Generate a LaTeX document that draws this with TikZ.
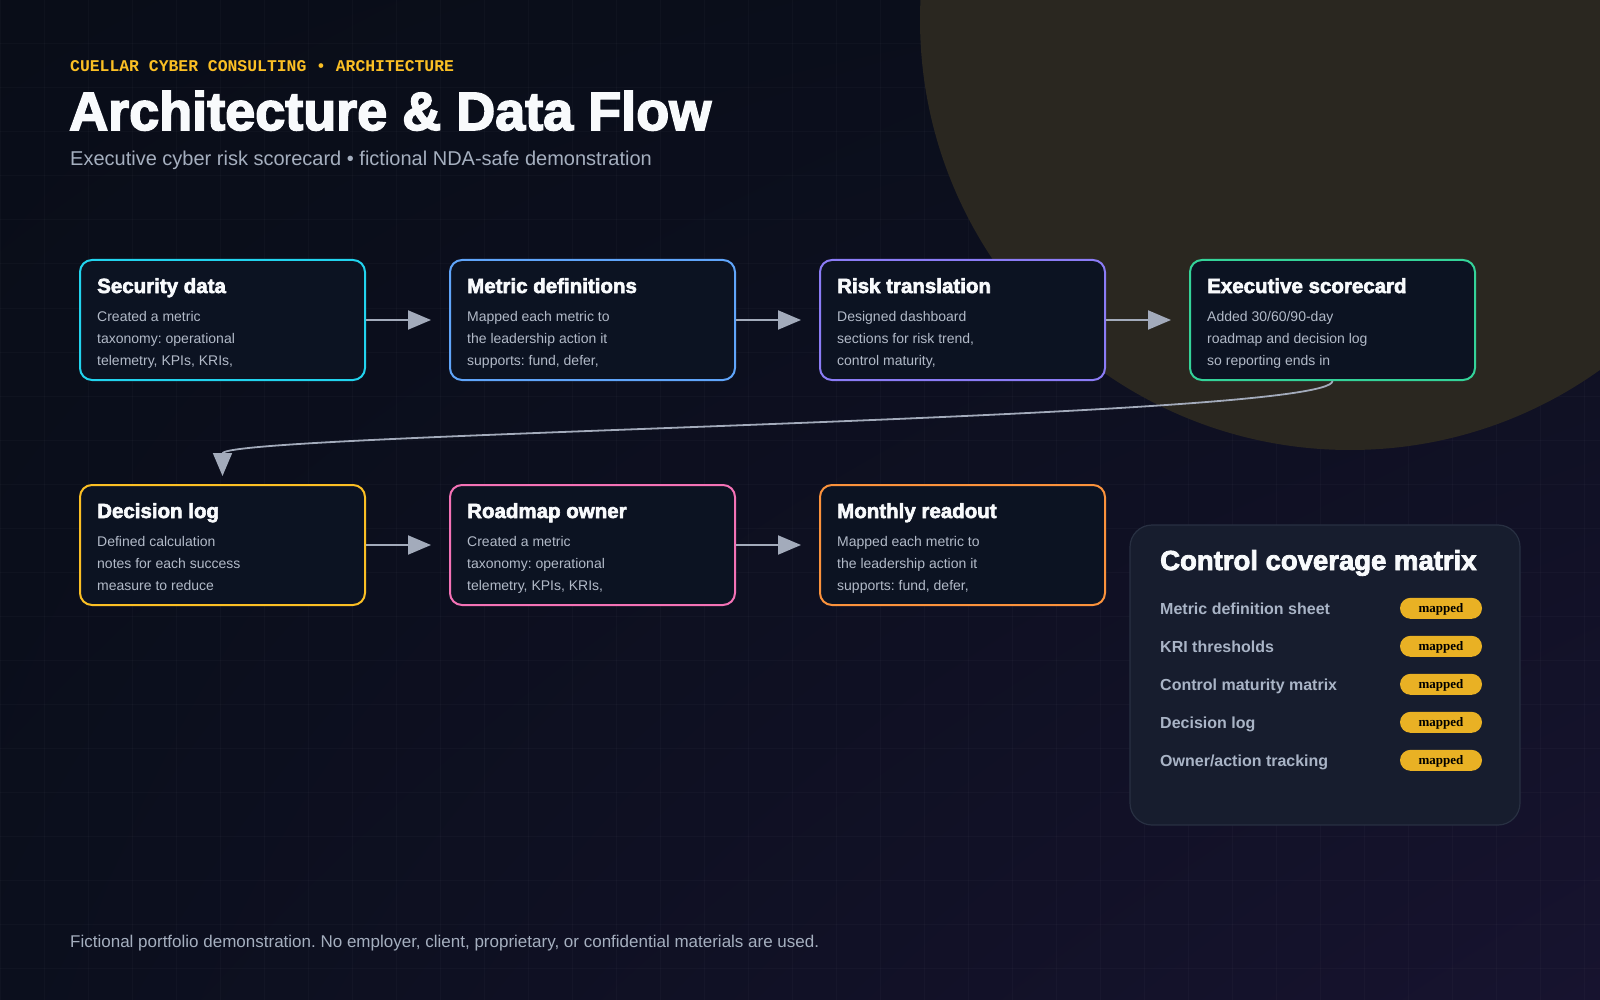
\documentclass[tikz,border=0pt]{standalone}
\usepackage{fontspec}
\setmainfont{Liberation Sans}
\newfontfamily\heavyfont{Liberation Sans}[BoldFeatures={FakeBold=3}]
\newfontfamily\codefont{Liberation Mono}
\newfontfamily\pillfont{Liberation Serif}
\usetikzlibrary{arrows.meta,positioning,calc,shadings}
\frenchspacing
\definecolor{bgTL}{HTML}{090D18}
\definecolor{bgTR}{HTML}{0B0F1D}
\definecolor{bgBL}{HTML}{0B0F1D}
\definecolor{bgBR}{HTML}{17132F}
\definecolor{blobOlive}{HTML}{2A2720}
\definecolor{cardFill}{HTML}{0C1322}
\definecolor{panelFill}{HTML}{171D2E}
\definecolor{panelEdge}{HTML}{283042}
\definecolor{arrowGray}{HTML}{A3ABBB}
\definecolor{titleWhite}{HTML}{F8FAFC}
\definecolor{bodyGray}{HTML}{B2BAC8}
\definecolor{subGray}{HTML}{A5AFBF}
\definecolor{rowGray}{HTML}{A9B4C6}
\definecolor{kickerAmber}{HTML}{FBBF24}
\definecolor{pillAmber}{HTML}{E9B124}
\definecolor{edgeCyan}{HTML}{22D3EE}
\definecolor{edgeBlue}{HTML}{60A5FA}
\definecolor{edgeViolet}{HTML}{8B7CF6}
\definecolor{edgeGreen}{HTML}{34D399}
\definecolor{edgeYellow}{HTML}{FBBF24}
\definecolor{edgePink}{HTML}{F472B6}
\definecolor{edgeOrange}{HTML}{FB923C}
\tikzset{
	card/.style={
		draw=#1,
		fill=cardFill,
		line width=2pt,
		rounded corners=12pt,
		minimum width=285pt,
		minimum height=120pt,
		inner sep=0pt
	},
	ctitle/.style={anchor=base west, inner sep=0pt, text=titleWhite,
		font=\heavyfont\bfseries\fontsize{20.5}{22}\selectfont},
	cbody/.style={anchor=north west, inner sep=0pt, align=left, text=bodyGray,
		font=\fontsize{14}{22}\selectfont},
	flow/.style={-{Triangle[length=23pt,width=19pt]}, line width=2pt, arrowGray},
	gridline/.style={white, opacity=0.022, line width=1pt},
	panel/.style={draw=panelEdge, fill=panelFill, line width=1.2pt,
		rounded corners=22pt, minimum width=390pt, minimum height=300pt},
	prow/.style={anchor=base west, inner sep=0pt, text=rowGray,
		font=\bfseries\fontsize{16}{18}\selectfont},
	pill/.style={fill=pillAmber, rounded corners=10.5pt, minimum width=82pt,
		minimum height=21pt, inner sep=0pt, text=black,
		text height=8.5pt, text depth=0pt,
		font=\pillfont\bfseries\fontsize{13}{13}\selectfont}
}
% one step card: name, centre, edge colour, title, three body lines
\newcommand{\flowcard}[7]{%
	\node[card=#3] (#1) at (#2) {};
	\node[ctitle] (#1-t) at ([shift={(18pt,-34pt)}]#1.north west) {#4};
	\node[cbody] (#1-b) at ([shift={(18pt,-46.6pt)}]#1.north west)
		{\strut #5\\#6\\#7};
}

\begin{document}
\begin{tikzpicture}[x=1pt, y=-1pt]
	\useasboundingbox (0,0) rectangle (1600,1000);
	\begin{scope}
		\clip (0,0) rectangle (1600,1000);
		\shade[upper left=bgTL, upper right=bgTR, lower left=bgBL, lower right=bgBR]
			(0,0) rectangle (1600,1000);
		\foreach \gx in {0,44,...,1600}
			\draw[gridline] (\gx,0) -- (\gx,1000);
		\foreach \gy in {0,44,...,1000}
			\draw[gridline] (0,\gy) -- (1600,\gy);
		\fill[blobOlive] (1350,20) circle (430);
	\end{scope}

	% header
	\node[anchor=base west, inner sep=0pt, text=kickerAmber,
		font=\codefont\bfseries\fontsize{16.4}{18}\selectfont] (kicker) at (70,71.5)
		{CUELLAR CYBER CONSULTING • ARCHITECTURE};
	\node[anchor=base west, inner sep=0pt, text=titleWhite,
		font=\heavyfont\bfseries\fontsize{54}{58}\selectfont] (title) at (69,130)
		{Architecture \& Data Flow};
	\node[anchor=base west, inner sep=0pt, text=subGray,
		font=\fontsize{20}{22}\selectfont] (subtitle) at (70,165.5)
		{Executive cyber risk scorecard • fictional NDA-safe demonstration};

	% flow cards
	\flowcard{S1}{222.5,320}{edgeCyan}{Security data}
		{Created a metric}{taxonomy: operational}{telemetry, KPIs, KRIs,}
	\flowcard{S2}{592.5,320}{edgeBlue}{Metric definitions}
		{Mapped each metric to}{the leadership action it}{supports: fund, defer,}
	\flowcard{S3}{962.5,320}{edgeViolet}{Risk translation}
		{Designed dashboard}{sections for risk trend,}{control maturity,}
	\flowcard{S4}{1332.5,320}{edgeGreen}{Executive scorecard}
		{Added 30/60/90-day}{roadmap and decision log}{so reporting ends in}
	\flowcard{S5}{222.5,545}{edgeYellow}{Decision log}
		{Defined calculation}{notes for each success}{measure to reduce}
	\flowcard{S6}{592.5,545}{edgePink}{Roadmap owner}
		{Created a metric}{taxonomy: operational}{telemetry, KPIs, KRIs,}
	\flowcard{S7}{962.5,545}{edgeOrange}{Monthly readout}
		{Mapped each metric to}{the leadership action it}{supports: fund, defer,}

	\draw[flow] (S1.east) -- ([xshift=-18pt]S2.west);
	\draw[flow] (S2.east) -- ([xshift=-18pt]S3.west);
	\draw[flow] (S3.east) -- ([xshift=-18pt]S4.west);
	\draw[flow, line width=1.8pt] (S4.south)
		.. controls ($(S4.south)+(0,38)$) and ($(S5.north)+(0,-51)$) .. ([yshift=8pt]S5.north);
	\draw[flow] (S5.east) -- ([xshift=-18pt]S6.west);
	\draw[flow] (S6.east) -- ([xshift=-18pt]S7.west);

	% coverage panel
	\node[panel] (CM) at (1325,675) {};
	\node[anchor=base west, inner sep=0pt, text=titleWhite,
		font=\heavyfont\bfseries\fontsize{27.5}{30}\selectfont] (CM-t) at (1160,570)
		{Control coverage matrix};
	\foreach \lab [count=\i] in {Metric definition sheet, KRI thresholds,
		Control maturity matrix, Decision log, Owner/action tracking} {
		\node[pill] (pill\i) at (1441,570.3+38*\i) {mapped};
		\node[prow] (row\i) at (1160,576.3+38*\i) {\lab};
	}

	% footer
	\node[anchor=base west, inner sep=0pt, text=subGray,
		font=\fontsize{17}{19}\selectfont] (footer) at (70,947)
		{Fictional portfolio demonstration. No employer, client, proprietary, or confidential materials are used.};
\end{tikzpicture}
\end{document}
